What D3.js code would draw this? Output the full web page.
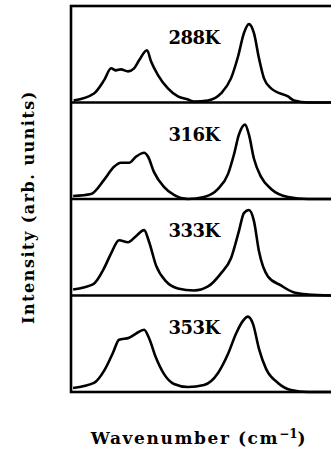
<!DOCTYPE html>
<html><head><meta charset="utf-8">
<script src="https://cdn.jsdelivr.net/npm/d3@7"></script>
<style>html,body{margin:0;padding:0;background:#fff;}svg{display:block;}</style>
</head><body>
<svg id="c" width="331" height="454"></svg>
<script>
const temps = ["288K", "316K", "333K", "353K"];
const wn288 = [1, 8.7, 12.5, 15.2, 17.0, 18.9, 21.6, 23.9, 25.8, 28.8, 30.3, 33.0, 36.7, 40.5, 44.3, 46.6, 51.9, 56.8, 60.6, 63.3, 65.5, 67.4, 69.3, 71.2, 73.1, 75.8, 82.2, 84.5, 89.8, 99];
const int288 = [2, 9, 22, 34, 32, 33, 31, 34, 42, 52, 41, 27, 14, 6, 3, 1, 2, 9, 24, 46, 69, 78, 69, 44, 24, 14, 6, 2, 0, 0];
const wn316 = [0.8, 7.6, 12.5, 16.3, 18.9, 22.0, 24.6, 27.7, 29.2, 31.4, 35.2, 39.0, 44.3, 50.4, 55.7, 59.5, 61.7, 63.6, 65.9, 67.4, 69.3, 72.0, 75.8, 82.2, 89.8, 99];
const int316 = [3, 5, 19, 32, 36, 36, 42, 46, 42, 27, 12, 4, 0, 2, 10, 25, 44, 64, 74, 64, 40, 22, 10, 2, 0, 0];
const wn333 = [0.8, 8.3, 12.5, 15.2, 18.2, 21.6, 24.6, 27.7, 29.5, 32.2, 36.0, 40.5, 46.6, 51.9, 56.8, 60.6, 63.6, 65.5, 67.4, 69.3, 71.2, 74.6, 79.5, 84.5, 89.8, 99];
const int333 = [6, 11, 27, 42, 55, 53, 59, 65, 54, 30, 14, 7, 5, 9, 22, 37, 64, 82, 85, 74, 44, 19, 10, 3, 1, 0];
const wn353 = [0.8, 8.7, 12.5, 15.9, 18.2, 22.0, 24.6, 27.7, 29.5, 32.2, 35.2, 39.0, 44.3, 50.4, 55.7, 59.5, 62.5, 65.2, 67.0, 68.9, 71.2, 73.9, 78.4, 83.3, 89.8, 99];
const int353 = [4, 9, 21, 39, 52, 54, 58, 62, 54, 34, 18, 8, 5, 7, 19, 38, 58, 71, 75, 68, 43, 23, 9, 2, 0, 0];
const xTitle = "Wavenumber (cm";
const xTitleSup = "\u22121";
const yTitle = "Intensity (arb. uunits)";

const series = [
  {t: temps[0], x: wn288, y: int288},
  {t: temps[1], x: wn316, y: int316},
  {t: temps[2], x: wn333, y: int333},
  {t: temps[3], x: wn353, y: int353}
];

const FONT = "DejaVu Serif";
const svg = d3.select("#c");
const mLeft = 71, mRight = 335, mTop = 6, mBottom = 392;
const x = d3.scaleLinear().domain([0, 100]).range([mLeft, mRight]);
const band = d3.scaleBand().domain(temps).range([mTop, mBottom]).paddingInner(0).paddingOuter(0);
const bh = band.bandwidth();
const y = d3.scaleLinear().domain([0, 96]).range([bh, 0]);
const labelX = 46.6, labelY = 58;

const line = d3.line().x(d => x(d[0])).y(d => y(d[1])).curve(d3.curveMonotoneX);

series.forEach(s => {
  const g = svg.append("g").attr("transform", `translate(0,${band(s.t)})`);
  g.append("path")
    .attr("d", line(d3.zip(s.x, s.y)))
    .attr("fill", "none").attr("stroke", "#000").attr("stroke-width", 2.6)
    .attr("stroke-linejoin", "round");
  g.append("text").attr("x", x(labelX)).attr("y", y(labelY))
    .attr("text-anchor", "middle")
    .attr("font-family", FONT).attr("font-weight", "bold")
    .attr("font-size", 18).attr("letter-spacing", -0.5).text(s.t);
});

svg.selectAll("line.sep").data(temps.slice(1)).join("line")
  .attr("class", "sep")
  .attr("x1", mLeft).attr("x2", mRight)
  .attr("y1", d => band(d)).attr("y2", d => band(d))
  .attr("stroke", "#000").attr("stroke-width", 2.4);
svg.append("rect").attr("x", mLeft).attr("y", mTop)
  .attr("width", mRight - mLeft).attr("height", mBottom - mTop)
  .attr("fill", "none").attr("stroke", "#000").attr("stroke-width", 2.6);

const xt = svg.append("text").attr("x", 199).attr("y", 444)
  .attr("text-anchor", "middle")
  .attr("font-family", FONT).attr("font-weight", "bold")
  .attr("font-size", 17).attr("letter-spacing", 1.6);
xt.append("tspan").text(xTitle);
xt.append("tspan").attr("dy", -6).attr("font-size", 12).attr("letter-spacing", 0).text(xTitleSup);
xt.append("tspan").attr("dy", 6).text(")");

svg.append("text")
  .attr("transform", "translate(34,207) rotate(-90)")
  .attr("text-anchor", "middle")
  .attr("font-family", FONT).attr("font-weight", "bold")
  .attr("font-size", 16).attr("letter-spacing", 1.5)
  .text(yTitle);
</script>
</body></html>
